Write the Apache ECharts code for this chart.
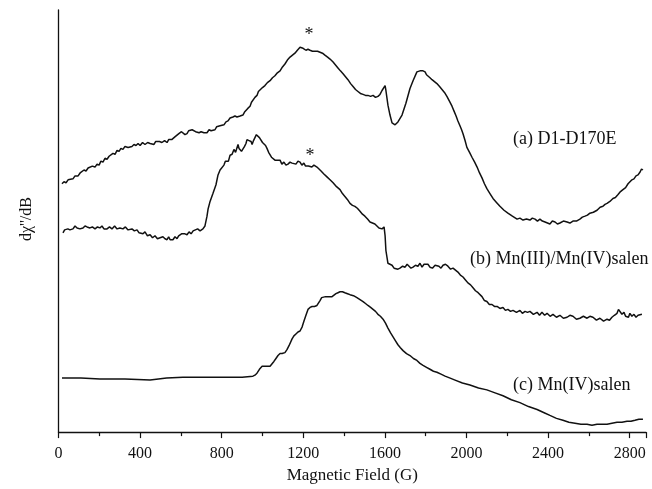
<!DOCTYPE html>
<html>
<head>
<meta charset="utf-8">
<script src="https://cdn.jsdelivr.net/npm/echarts@6/dist/echarts.min.js"></script>
<style>html,body{margin:0;padding:0;background:#fff;}#c{width:652px;height:489px;}</style>
</head>
<body>
<div id="c"></div>
<script>
// Magnetic field (G) and relative signal (arbitrary units, offset stacked)
const curveA = [[17,253],[27,255],[37,254],[47,257],[56,256],[71,258],[81,261],[96,261],[106,264],[115,263],[125,267],[135,266],[145,269],[154,268],[166,271],[179,270],[189,273],[199,272],[208,276],[218,275],[228,279],[238,278],[248,281],[257,280],[267,284],[277,283],[287,287],[297,286],[306,289],[316,288],[326,291],[341,290],[350,292],[360,291],[370,293],[380,292],[390,294],[400,292],[412,295],[424,293],[437,295],[449,294],[458,292],[468,293],[476,296],[483,294],[495,296],[507,295],[520,297],[532,295],[540,298],[547,296],[555,298],[561,297],[572,301],[581,300],[590,304],[596,302],[603,306],[610,305],[620,303],[630,304],[638,307],[645,306],[655,308],[664,307],[672,306],[679,307],[689,305],[699,306],[706,304],[713,305],[721,307],[728,305],[738,308],[748,307],[757,309],[767,308],[775,311],[782,310],[792,312],[801,314],[811,313],[821,316],[831,317],[841,320],[848,321],[855,321],[865,322],[875,321],[883,323],[890,322],[897,324],[904,323],[912,326],[919,327],[929,330],[939,332],[946,336],[953,337],[963,341],[973,343],[980,347],[988,348],[1000,351],[1012,353],[1024,356],[1037,358],[1049,361],[1061,363],[1073,366],[1086,368],[1098,372],[1110,375],[1122,379],[1135,382],[1147,384],[1159,386],[1171,389],[1184,392],[1191,393],[1199,391],[1206,390],[1213,389],[1223,390],[1233,389],[1245,388],[1257,388],[1270,388],[1282,387],[1294,386],[1306,384],[1319,382],[1331,380],[1346,377],[1358,374],[1370,371],[1382,368],[1395,365],[1407,362],[1419,359],[1432,355],[1444,352],[1456,349],[1468,347],[1480,345],[1493,344],[1505,343],[1517,343],[1530,342],[1542,343],[1554,341],[1566,342],[1576,344],[1586,348],[1601,353],[1605,348],[1615,333],[1625,323],[1635,315],[1650,313],[1664,316],[1684,323],[1703,335],[1723,350],[1738,358],[1757,367],[1765,369],[1772,368],[1780,367],[1787,368],[1797,367],[1804,364],[1811,362],[1821,361],[1831,359],[1843,357],[1855,355],[1868,352],[1880,349],[1892,346],[1904,342],[1917,337],[1929,332],[1939,327],[1949,322],[1958,317],[1968,312],[1976,308],[1983,304],[1993,297],[2002,290],[2015,285],[2027,280],[2040,275],[2052,270],[2064,264],[2076,259],[2088,253],[2100,248],[2115,243],[2130,238],[2147,234],[2164,230],[2184,226],[2203,223],[2225,220],[2248,217],[2262,218],[2277,216],[2294,217],[2311,216],[2323,218],[2336,217],[2348,215],[2360,217],[2372,215],[2385,214],[2397,213],[2409,212],[2421,215],[2434,214],[2446,212],[2458,213],[2475,215],[2493,214],[2507,213],[2522,215],[2539,215],[2556,217],[2568,219],[2581,220],[2593,221],[2605,223],[2622,224],[2640,226],[2655,229],[2669,230],[2679,232],[2689,233],[2703,235],[2718,238],[2730,239],[2743,242],[2755,245],[2767,247],[2780,249],[2792,253],[2801,254],[2811,257],[2821,258],[2831,261],[2841,262],[2851,265],[2858,268],[2865,267]];
const curveB = [[22,203],[30,206],[37,205],[46,207],[56,206],[63,208],[71,207],[81,210],[91,208],[98,210],[105,207],[113,209],[120,208],[130,210],[140,209],[147,207],[154,208],[166,209],[179,207],[191,209],[203,208],[213,210],[223,207],[230,209],[238,207],[250,209],[262,207],[275,210],[287,207],[294,209],[301,208],[309,206],[316,207],[328,209],[341,206],[350,208],[360,207],[372,205],[385,206],[395,203],[404,205],[414,202],[424,204],[436,200],[449,201],[461,198],[473,200],[485,197],[498,198],[505,196],[512,199],[522,197],[532,196],[540,199],[547,196],[554,198],[561,196],[571,199],[581,197],[589,200],[596,199],[603,202],[610,200],[620,202],[630,201],[640,204],[650,202],[660,205],[669,204],[682,207],[694,205],[701,207],[708,207],[718,210],[728,220],[733,227],[743,235],[757,243],[772,252],[782,262],[792,267],[801,269],[811,272],[818,276],[826,277],[833,276],[841,282],[846,280],[851,283],[856,281],[860,288],[868,285],[875,287],[880,293],[885,289],[890,290],[897,286],[904,287],[912,291],[919,294],[924,298],[929,299],[934,297],[939,295],[944,296],[949,293],[956,297],[963,300],[970,303],[978,302],[985,300],[993,299],[1000,295],[1007,293],[1015,292],[1022,289],[1030,285],[1037,284],[1044,280],[1051,280],[1061,277],[1071,277],[1078,275],[1086,277],[1095,273],[1105,275],[1115,272],[1125,273],[1135,275],[1145,274],[1154,276],[1164,273],[1174,276],[1184,275],[1193,272],[1203,274],[1211,271],[1218,273],[1225,271],[1233,273],[1242,270],[1252,272],[1260,271],[1267,270],[1277,268],[1287,266],[1301,263],[1316,260],[1331,257],[1346,254],[1363,250],[1380,247],[1392,243],[1404,240],[1416,237],[1429,233],[1441,231],[1453,230],[1465,228],[1478,225],[1490,222],[1502,220],[1515,217],[1527,214],[1539,213],[1551,212],[1561,210],[1571,208],[1586,207],[1596,209],[1601,200],[1605,185],[1615,172],[1625,171],[1635,170],[1645,167],[1654,168],[1664,166],[1674,167],[1687,169],[1699,168],[1709,171],[1718,169],[1728,167],[1738,168],[1750,170],[1762,169],[1772,172],[1782,168],[1792,171],[1801,169],[1811,171],[1821,168],[1833,167],[1846,170],[1855,172],[1865,169],[1875,167],[1885,170],[1897,171],[1909,169],[1922,166],[1934,167],[1946,165],[1958,163],[1970,160],[1983,158],[1995,155],[2007,152],[2020,150],[2032,147],[2044,144],[2057,142],[2066,140],[2076,138],[2088,134],[2100,133],[2112,130],[2125,130],[2137,128],[2150,128],[2164,126],[2179,127],[2191,124],[2203,125],[2216,123],[2228,124],[2245,122],[2262,124],[2274,121],[2287,123],[2299,122],[2311,123],[2328,120],[2346,122],[2358,119],[2370,122],[2383,119],[2395,121],[2410,118],[2424,120],[2441,117],[2458,119],[2475,116],[2493,117],[2507,119],[2522,118],[2539,115],[2556,116],[2573,118],[2591,116],[2605,118],[2620,117],[2637,114],[2654,116],[2672,113],[2689,115],[2701,114],[2713,117],[2725,119],[2738,121],[2745,125],[2752,123],[2762,120],[2772,122],[2780,118],[2787,120],[2794,117],[2801,121],[2811,118],[2821,120],[2831,117],[2841,119],[2850,121],[2860,120]];
const curveC = [[17,55],[110,55],[203,54],[326,54],[449,53],[530,55],[610,56],[725,56],[841,56],[900,56],[953,57],[963,58],[973,60],[985,64],[998,67],[1017,67],[1037,67],[1046,69],[1056,72],[1066,75],[1076,78],[1086,80],[1096,80],[1110,81],[1120,84],[1130,88],[1145,95],[1154,98],[1164,100],[1174,102],[1184,103],[1194,107],[1203,113],[1213,119],[1223,125],[1233,127],[1243,128],[1255,128],[1267,129],[1275,131],[1282,134],[1290,137],[1297,138],[1309,138],[1321,138],[1331,138],[1341,138],[1350,139],[1360,141],[1370,142],[1380,143],[1392,143],[1404,142],[1417,141],[1429,140],[1446,139],[1463,137],[1478,135],[1493,133],[1505,131],[1517,129],[1530,127],[1542,125],[1554,123],[1566,120],[1578,118],[1591,115],[1603,111],[1615,106],[1628,101],[1640,97],[1652,93],[1664,89],[1676,86],[1689,83],[1706,80],[1723,78],[1740,75],[1757,73],[1772,70],[1787,68],[1804,66],[1821,64],[1838,62],[1855,61],[1875,59],[1895,57],[1920,55],[1944,53],[1980,50],[2017,48],[2059,45],[2100,43],[2140,40],[2179,37],[2220,33],[2262,30],[2304,26],[2346,23],[2378,20],[2409,17],[2441,14],[2473,12],[2502,10],[2532,9],[2561,8],[2591,8],[2615,7],[2640,8],[2665,8],[2689,8],[2713,9],[2738,10],[2762,10],[2787,11],[2806,11],[2826,12],[2845,13],[2865,13]];
const xTicks = [0, 400, 800, 1200, 1600, 2000, 2400, 2800];
const seriesNames = ['(a) D1-D170E', '(b) Mn(III)/Mn(IV)salen', '(c) Mn(IV)salen'];
const yAxisTitle = 'dχ\'\'/dB';
const xAxisTitle = 'Magnetic Field (G)';
const starMarks = [[1228, 408], [1233, 285]];

const serif = '"Liberation Serif", "DejaVu Serif", serif';
const chart = echarts.init(document.getElementById('c'), null, {renderer: 'canvas'});
const lineStyle = {color: '#111', width: 1.5};
chart.setOption({
  animation: false,
  backgroundColor: '#fff',
  grid: {left: 58.5, right: 6, top: 10, bottom: 49, containLabel: false},
  xAxis: {
    type: 'value', min: 0, max: 2880, interval: 400,
    axisLine: {show: true, lineStyle: {color: '#111', width: 1.3}},
    axisTick: {show: true, inside: false, length: 6, lineStyle: {color: '#111', width: 1.2}},
    minorTick: {show: true, splitNumber: 2, length: 4, lineStyle: {color: '#111', width: 1.2}},
    splitLine: {show: false},
    axisLabel: {
      color: '#111', fontFamily: serif, fontSize: 16, margin: 14,
      formatter: v => (xTicks.indexOf(v) >= 0 ? String(v) : '')
    },
    name: xAxisTitle, nameLocation: 'middle', nameGap: 34,
    nameTextStyle: {color: '#111', fontFamily: serif, fontSize: 17}
  },
  yAxis: {
    type: 'value', min: 0, max: 430,
    axisLine: {show: true, onZero: false, lineStyle: {color: '#111', width: 1.3}},
    axisTick: {show: false}, axisLabel: {show: false}, splitLine: {show: false}
  },
  series: [
    {name: seriesNames[0], type: 'line', data: curveA, showSymbol: false, symbol: 'none', lineStyle: lineStyle,
     markPoint: {symbol: 'circle', symbolSize: 0, silent: true,
       label: {show: true, formatter: '*', color: '#111', fontFamily: serif, fontSize: 18, offset: [0, 4]},
       data: starMarks.map(p => ({coord: p}))}},
    {name: seriesNames[1], type: 'line', data: curveB, showSymbol: false, symbol: 'none', lineStyle: lineStyle},
    {name: seriesNames[2], type: 'line', data: curveC, showSymbol: false, symbol: 'none', lineStyle: lineStyle}
  ],
  graphic: [
    {type: 'text', x: 27, y: 219, rotation: Math.PI / 2,
     style: {text: yAxisTitle, fill: '#111', font: '16px ' + serif, textAlign: 'center', textVerticalAlign: 'middle'}},
    {type: 'text', left: 513, top: 130, style: {text: seriesNames[0], fill: '#111', font: '18px ' + serif}},
    {type: 'text', left: 470, top: 250, style: {text: seriesNames[1], fill: '#111', font: '18px ' + serif}},
    {type: 'text', left: 513, top: 376, style: {text: seriesNames[2], fill: '#111', font: '18px ' + serif}}
  ]
});
</script>
</body>
</html>
